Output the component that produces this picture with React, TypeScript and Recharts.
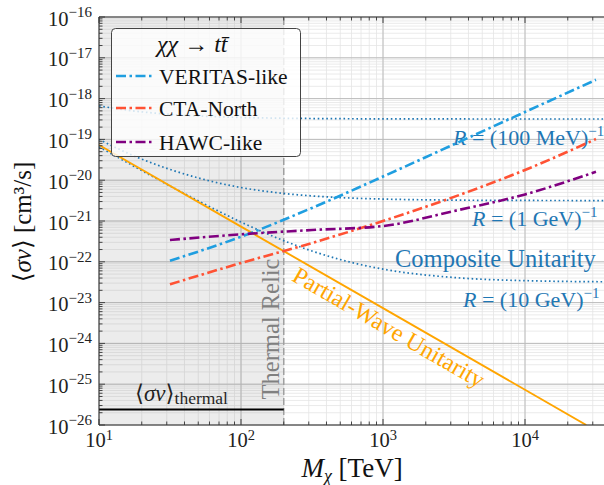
import React from "react";
import {
    CartesianGrid,
    Customized,
    Legend,
    Line,
    LineChart,
    ReferenceArea,
    ReferenceLine,
    XAxis,
    YAxis,
} from "recharts";

const SERIF = '"Liberation Serif", "DejaVu Serif", serif';

// detector sensitivities (chi chi -> t tbar), M in TeV, <sigma v> in cm^3/s
const detectorMass = [31.6, 100, 316, 1000, 3162, 10000, 31600];
const veritasSigmaV = [1.06e-22, 4.12e-22, 2.09e-21, 1.23e-20, 7.59e-20, 4.7e-19, 2.89e-18];
const ctaNorthSigmaV = [2.81e-23, 9.35e-23, 2.89e-22, 1.0e-21, 3.9e-21, 1.78e-20, 1.02e-19];
const hawcSigmaV = [3.42e-22, 4.72e-22, 6.01e-22, 7.53e-22, 1.76e-21, 4.49e-21, 1.61e-20];

// composite unitarity curves
const compositeMass = [10, 17.8, 31.6, 56.2, 100, 178, 316, 562, 1000, 3162, 10000, 40000];
const composite100MeV = [6.61e-19, 4.95e-19, 4.12e-19, 3.68e-19, 3.45e-19, 3.32e-19, 3.25e-19, 3.21e-19, 3.19e-19, 3.17e-19, 3.16e-19, 3.16e-19];
const composite1GeV = [1.0e-19, 3.88e-20, 1.84e-20, 1.02e-20, 6.61e-21, 4.95e-21, 4.12e-21, 3.68e-21, 3.45e-21, 3.25e-21, 3.19e-21, 3.17e-21];
const composite10GeV = [6.57e-20, 2.15e-20, 7.26e-21, 2.53e-21, 9.42e-22, 3.88e-22, 1.84e-22, 1.02e-22, 6.61e-23, 4.12e-23, 3.45e-23, 3.23e-23];

// partial-wave unitarity
const partialWaveMass = [10, 100, 1000, 10000, 27000];
const partialWaveSigmaV = [7.3e-20, 7.3e-22, 7.3e-24, 7.3e-26, 1.0e-26];

// thermal relic
const thermalMass = [10, 200];
const thermalSigmaV = [2.4e-26, 2.4e-26];
const thermalRelicMass = 200;

const xDecades = [10, 100, 1000, 10000];
const yDecades = [1e-26, 1e-25, 1e-24, 1e-23, 1e-22, 1e-21, 1e-20, 1e-19, 1e-18, 1e-17, 1e-16];
const xDomain = [10, 40000];
const yDomain = [1e-26, 1e-16];

const detectors = [
    { name: "VERITAS-like", color: "#1f9ee0", data: veritasSigmaV },
    { name: "CTA-North", color: "#ff5234", data: ctaNorthSigmaV },
    { name: "HAWC-like", color: "#800080", data: hawcSigmaV },
];

const pts = (xs: number[], ys: number[]) => xs.map((x, i) => ({ x, y: ys[i] }));

const xTicks: number[] = [];
xDecades.forEach((d) => {
    for (let k = 1; k <= 9; k++) if (d * k <= xDomain[1]) xTicks.push(d * k);
});
const yTicks: number[] = [];
yDecades.forEach((d, i) => {
    if (i === yDecades.length - 1) {
        yTicks.push(d);
        return;
    }
    for (let k = 1; k <= 9; k++) yTicks.push(d * k);
});

const PLOT_H = 408;
const DASHDOT = "10 3.5 2.5 3.5";
const DOTTED = "1.6 2.7";
const BLUE = "#1f77b4";

const isDecade = (v: number) => Math.abs(Math.log10(v) - Math.round(Math.log10(v))) < 1e-6;

function XTick({ x, y, payload }: any) {
    const v = payload.value;
    const major = isDecade(v);
    const len = major ? 6 : 3.5;
    return (
        <g>
            <line x1={x} x2={x} y1={y} y2={y - len} stroke="#333" strokeWidth={0.9} />
            <line x1={x} x2={x} y1={y - PLOT_H} y2={y - PLOT_H + len} stroke="#333" strokeWidth={0.9} />
            {major && (
                <text x={x} y={y + 22} textAnchor="middle" fontSize={20.5} fill="#222" fontFamily={SERIF}>
                    10
                    <tspan dy={-7} fontSize={14.5}>
                        {Math.round(Math.log10(v))}
                    </tspan>
                </text>
            )}
        </g>
    );
}

function YTick({ x, y, payload }: any) {
    const v = payload.value;
    const major = isDecade(v);
    const len = major ? 6 : 3.5;
    const exp = Math.round(Math.log10(v));
    return (
        <g>
            <line x1={x} x2={x + len} y1={y} y2={y} stroke="#333" strokeWidth={0.9} />
            {major && (
                <text x={x - 7} y={y + 8.5} textAnchor="end" fontSize={20.5} fill="#222" fontFamily={SERIF}>
                    10
                    <tspan dy={-8.5} fontSize={15}>
                        {"\u2212" + Math.abs(exp)}
                    </tspan>
                </text>
            )}
        </g>
    );
}

function LegendBox() {
    return (
        <svg width={190} height={129} style={{ display: "block" }}>
            <rect x={0.5} y={0.5} width={189} height={128} rx={4} fill="#fff" fillOpacity={0.8} stroke="#444" />
            <text x={46} y={24} fontSize={24} fontFamily={SERIF} fill="#111">
                <tspan fontStyle="italic">χχ</tspan> → <tspan fontStyle="italic">tt&#772;</tspan>
            </text>
            {detectors.map((d, i) => {
                const cy = [48, 80, 114][i];
                return (
                    <g key={d.name}>
                        <line x1={5} x2={41} y1={cy} y2={cy} stroke={d.color} strokeWidth={2.6} strokeDasharray={DASHDOT} />
                        <text x={48} y={cy + 7.5} fontSize={21.5} fontFamily={SERIF} fill="#111">
                            {d.name}
                        </text>
                    </g>
                );
            })}
        </svg>
    );
}

function Annotations() {
    return (
        <g fontFamily={SERIF}>
            <line x1={99} x2={612} y1={17} y2={17} stroke="#333" strokeWidth={1} />
            <text x={453} y={145} fontSize={22} fill={BLUE}>
                <tspan fontStyle="italic">R</tspan> = (100 MeV)
                <tspan dy={-9} fontSize={15}>−1</tspan>
            </text>
            <text x={472} y={226} fontSize={22} fill={BLUE}>
                <tspan fontStyle="italic">R</tspan> = (1 GeV)
                <tspan dy={-9} fontSize={15}>−1</tspan>
            </text>
            <text x={395} y={267} fontSize={24.5} fill={BLUE}>
                Composite Unitarity
            </text>
            <text x={463} y={307} fontSize={22} fill={BLUE}>
                <tspan fontStyle="italic">R</tspan> = (10 GeV)
                <tspan dy={-9} fontSize={15}>−1</tspan>
            </text>
            <text
                x={389}
                y={327}
                dy="0.35em"
                fontSize={24}
                fill="#ffa500"
                textAnchor="middle"
                transform="rotate(30 389 327)">
                Partial-Wave Unitarity
            </text>
            <text
                x={270}
                y={329}
                dy="0.35em"
                fontSize={24.5}
                fill="#808080"
                textAnchor="middle"
                transform="rotate(-90 270 329)">
                Thermal Relic
            </text>
            <text x={135} y={401} fontSize={23} fill="#111">
                ⟨<tspan fontStyle="italic">σv</tspan>⟩
                <tspan dy={3} fontSize={17.5}>thermal</tspan>
            </text>
            <text
                x={22}
                y={222}
                dy="0.35em"
                fontSize={25}
                fill="#111"
                textAnchor="middle"
                transform="rotate(-90 22 222)">
                ⟨<tspan fontStyle="italic">σv</tspan>⟩ [cm³/s]
            </text>
            <text x={352} y={477} fontSize={27} fill="#111" textAnchor="middle">
                <tspan fontStyle="italic">M</tspan>
                <tspan dy={5} fontSize={18} fontStyle="italic">χ</tspan>
                <tspan dy={-5}> [TeV]</tspan>
            </text>
        </g>
    );
}

export default function App() {
    return (
        <div
            style={{
                position: "absolute",
                left: 0,
                top: 0,
                width: 604,
                height: 485,
                overflow: "hidden",
                background: "#fff",
            }}>
            <LineChart width={612} height={485} margin={{ top: 17, right: 1.5, left: 39, bottom: 0 }}>
                <CartesianGrid stroke="#e4e4e4" strokeWidth={0.8} />
                <CartesianGrid stroke="#bcbcbc" strokeWidth={1} horizontalValues={yDecades} verticalValues={xDecades} />
                <ReferenceArea x1={10} x2={thermalRelicMass} fill="#808080" fillOpacity={0.15} stroke="none" />
                <ReferenceLine x={thermalRelicMass} stroke="#a0a0a0" strokeWidth={1.5} strokeDasharray="7 3" />
                <XAxis
                    type="number"
                    dataKey="x"
                    scale="log"
                    domain={xDomain}
                    allowDataOverflow
                    ticks={xTicks}
                    interval={0}
                    tick={<XTick />}
                    tickLine={false}
                    tickSize={0}
                    tickMargin={0}
                    height={60}
                    axisLine={{ stroke: "#333", strokeWidth: 1 }}
                />
                <YAxis
                    type="number"
                    dataKey="y"
                    scale="log"
                    domain={yDomain}
                    allowDataOverflow
                    ticks={yTicks}
                    interval={0}
                    tick={<YTick />}
                    tickLine={false}
                    tickSize={0}
                    tickMargin={0}
                    width={60}
                    axisLine={{ stroke: "#333", strokeWidth: 1 }}
                />
                <Line data={pts(compositeMass, composite100MeV)} dataKey="y" type="monotone" stroke={BLUE} strokeWidth={1.7} strokeDasharray={DOTTED} dot={false} activeDot={false} isAnimationActive={false} />
                <Line data={pts(compositeMass, composite1GeV)} dataKey="y" type="monotone" stroke={BLUE} strokeWidth={1.7} strokeDasharray={DOTTED} dot={false} activeDot={false} isAnimationActive={false} />
                <Line data={pts(compositeMass, composite10GeV)} dataKey="y" type="monotone" stroke={BLUE} strokeWidth={1.7} strokeDasharray={DOTTED} dot={false} activeDot={false} isAnimationActive={false} />
                <Line data={pts(partialWaveMass, partialWaveSigmaV)} dataKey="y" type="linear" stroke="#ffa500" strokeWidth={1.9} dot={false} activeDot={false} isAnimationActive={false} />
                <Line data={pts(thermalMass, thermalSigmaV)} dataKey="y" type="linear" stroke="#000" strokeWidth={1.9} dot={false} activeDot={false} isAnimationActive={false} />
                {detectors.map((d) => (
                    <Line
                        key={d.name}
                        name={d.name}
                        data={pts(detectorMass, d.data)}
                        dataKey="y"
                        type="monotone"
                        stroke={d.color}
                        strokeWidth={2.6}
                        strokeDasharray={DASHDOT}
                        dot={false}
                        activeDot={false}
                        isAnimationActive={false}
                    />
                ))}
                <Customized component={<Annotations />} />
                <Legend
                    layout="vertical"
                    align="center"
                    verticalAlign="middle"
                    content={<LegendBox />}
                    wrapperStyle={{ position: "absolute", left: 111, top: 28, width: 190, height: 129 }}
                />
            </LineChart>
        </div>
    );
}
